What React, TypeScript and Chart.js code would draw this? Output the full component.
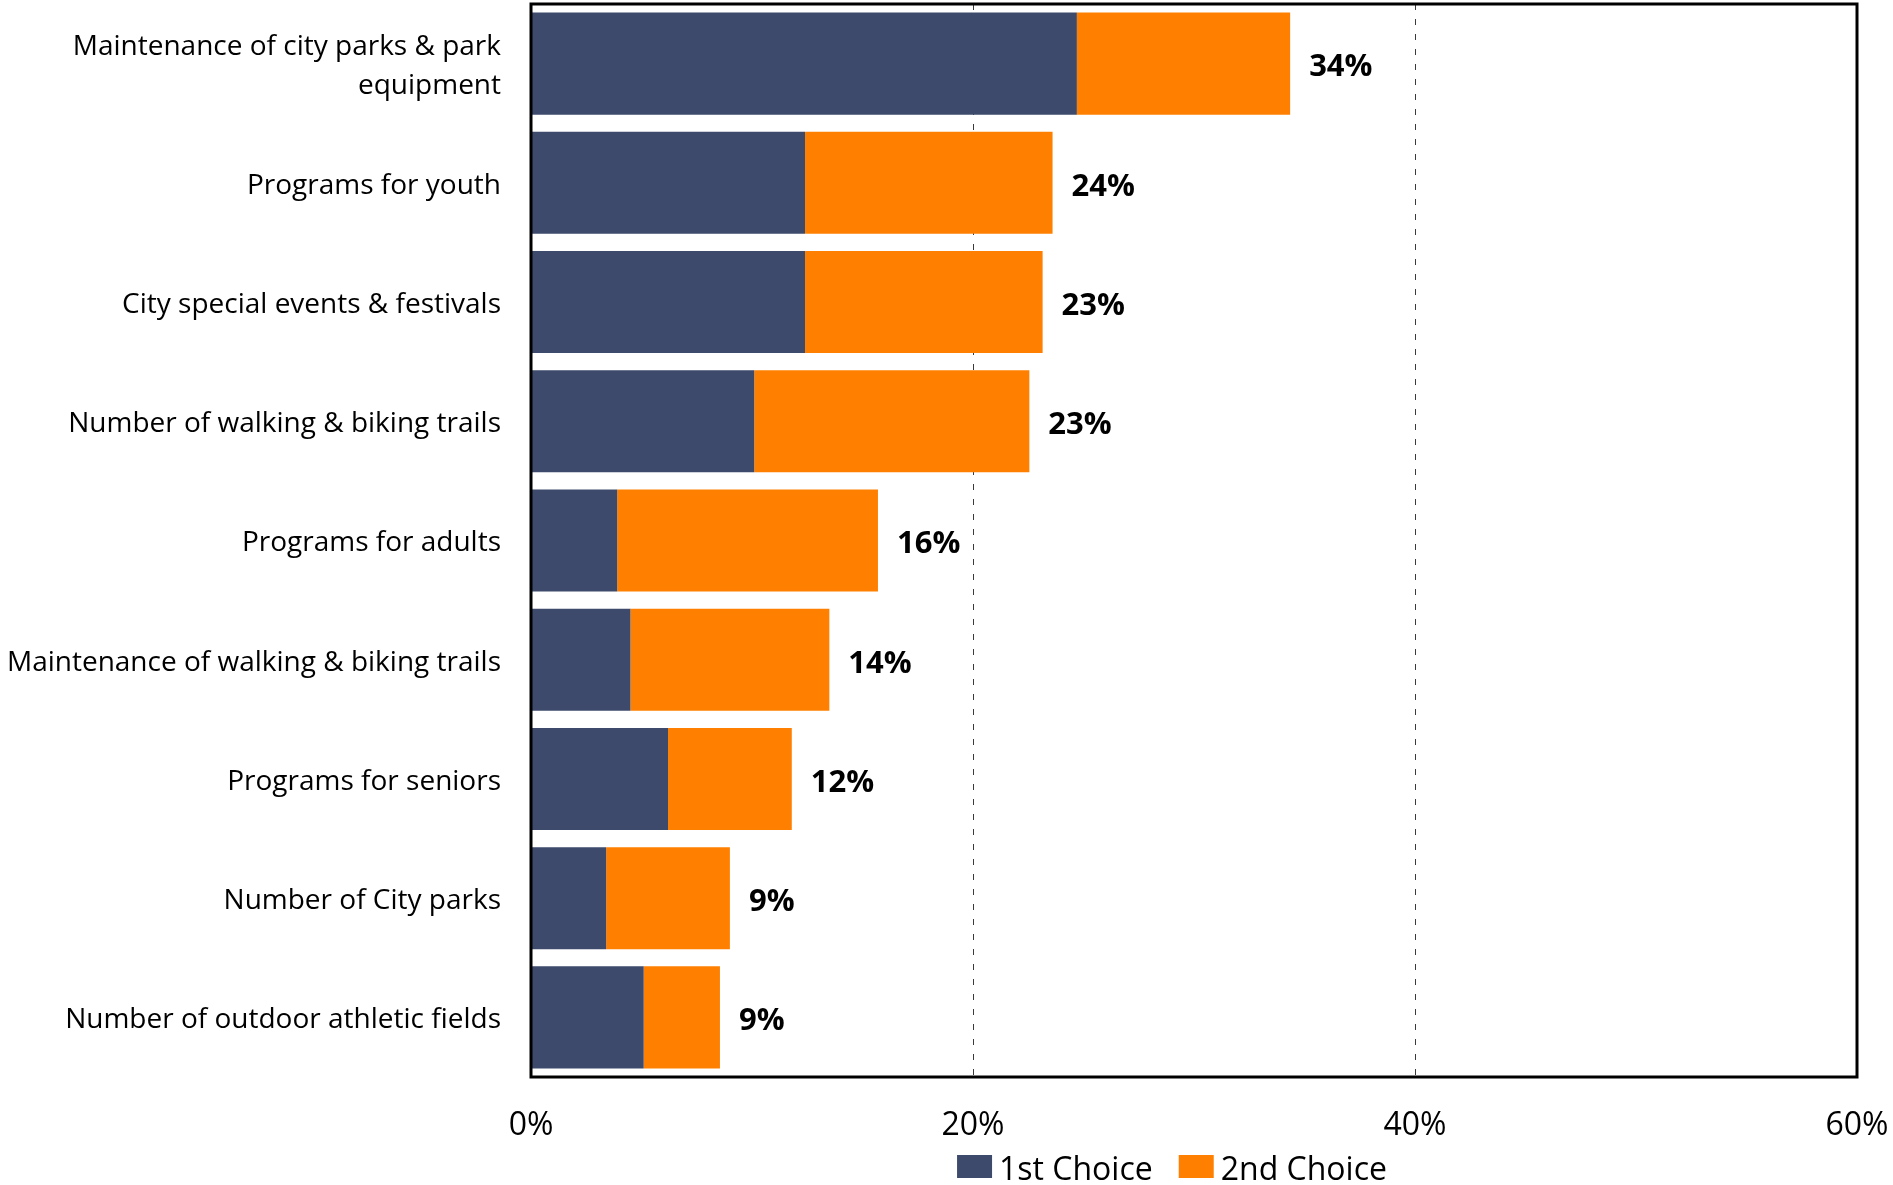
import React, { useEffect, useRef } from "react";
import { Chart, registerables } from "chart.js";

Chart.register(...registerables);

const categories: (string | string[])[] = [
  ["Maintenance of city parks & park", "equipment"],
  "Programs for youth",
  "City special events & festivals",
  "Number of walking & biking trails",
  "Programs for adults",
  "Maintenance of walking & biking trails",
  "Programs for seniors",
  "Number of City parks",
  "Number of outdoor athletic fields",
];
const firstChoice = [24.7, 12.4, 12.4, 10.1, 3.9, 4.5, 6.2, 3.4, 5.1];
const secondChoice = [9.65, 11.2, 10.75, 12.45, 11.8, 9.0, 5.6, 5.6, 3.45];
const seriesNames = ["1st Choice", "2nd Choice"];
const seriesColors = ["#3D4A6B", "#FF8000"];
const xMax = 60;
const xStep = 20;

const FONT = "'Open Sans', 'DejaVu Sans', sans-serif";

export default function App() {
  const ref = useRef<HTMLCanvasElement | null>(null);

  useEffect(() => {
    if (!ref.current) return;

    const frame = {
      id: "frame",
      afterDatasetsDraw(chart: any) {
        const { ctx, chartArea: a } = chart;
        ctx.save();
        ctx.strokeStyle = "#000";
        ctx.lineWidth = 3;
        ctx.strokeRect(a.left, a.top, a.right - a.left, a.bottom - a.top);
        ctx.restore();
      },
    };

    const totals = {
      id: "totals",
      afterDatasetsDraw(chart: any) {
        const { ctx } = chart;
        const meta = chart.getDatasetMeta(1);
        ctx.save();
        ctx.font = `bold 31px ${FONT}`;
        ctx.fillStyle = "#000";
        ctx.textAlign = "left";
        ctx.textBaseline = "middle";
        meta.data.forEach((el: any, i: number) => {
          const t = Math.round(firstChoice[i] + secondChoice[i]);
          ctx.fillText(`${t}%`, el.x + 19, el.y + 4);
        });
        ctx.restore();
      },
    };

    const legend = {
      id: "customLegend",
      afterDraw(chart: any) {
        const { ctx, chartArea: a } = chart;
        ctx.save();
        ctx.font = `32px ${FONT}`;
        ctx.textBaseline = "middle";
        ctx.textAlign = "left";
        const boxW = 35;
        const boxH = 23;
        const gapText = 7;
        const gapItem = 26;
        const widths = seriesNames.map((n) => ctx.measureText(n).width);
        let total = 0;
        widths.forEach((w, i) => {
          total += boxW + gapText + w + (i < widths.length - 1 ? gapItem : 0);
        });
        const cx = (a.left + a.right) / 2 - 22;
        let x = cx - total / 2;
        const yTop = 1155;
        seriesNames.forEach((n, i) => {
          ctx.fillStyle = seriesColors[i];
          ctx.fillRect(x, yTop, boxW, boxH);
          ctx.fillStyle = "#000";
          ctx.fillText(n, x + boxW + gapText, yTop + boxH / 2 + 4);
          x += boxW + gapText + widths[i] + gapItem;
        });
        ctx.restore();
      },
    };

    const chart = new Chart(ref.current, {
      type: "bar",
      data: {
        labels: categories,
        datasets: [
          {
            label: seriesNames[0],
            data: firstChoice,
            backgroundColor: seriesColors[0],
            barPercentage: 0.856,
            categoryPercentage: 1,
          },
          {
            label: seriesNames[1],
            data: secondChoice,
            backgroundColor: seriesColors[1],
            barPercentage: 0.856,
            categoryPercentage: 1,
          },
        ],
      },
      options: {
        indexAxis: "y",
        responsive: false,
        animation: false,
        layout: { padding: { left: 0, right: 36, top: 4, bottom: 0 } },
        plugins: {
          legend: { display: false },
          tooltip: { enabled: false },
        },
        scales: {
          x: {
            stacked: true,
            min: 0,
            max: xMax,
            border: { display: false, dash: [6, 9] },
            grid: {
              drawTicks: false,
              color: (c: any) =>
                c.tick && (c.tick.value === 0 || c.tick.value === xMax) ? "rgba(0,0,0,0)" : "#3a3a3a",
              lineWidth: 1,
            },
            ticks: {
              stepSize: xStep,
              padding: 30,
              color: "#000",
              font: { family: FONT, size: 32 },
              callback: (v: any) => `${v}%`,
              maxRotation: 0,
            },
            afterFit(scale: any) {
              scale.height = 108;
              scale.paddingLeft = 0;
              scale.paddingRight = 0;
            },
          },
          y: {
            stacked: true,
            border: { display: false },
            grid: { display: false, drawTicks: false },
            ticks: {
              padding: 30,
              labelOffset: 3,
              color: "#000",
              font: { family: FONT, size: 28, lineHeight: 1.38 },
              autoSkip: false,
            },
            afterFit(scale: any) {
              scale.width = 531;
              scale.paddingTop = 0;
              scale.paddingBottom = 0;
            },
          },
        },
      },
      plugins: [frame, totals, legend],
    } as any);

    return () => chart.destroy();
  }, []);

  return (
    <div style={{ position: "absolute", left: 0, top: 0, width: 1893, height: 1185, background: "#fff" }}>
      <canvas ref={ref} width={1893} height={1185} style={{ display: "block" }} />
    </div>
  );
}
